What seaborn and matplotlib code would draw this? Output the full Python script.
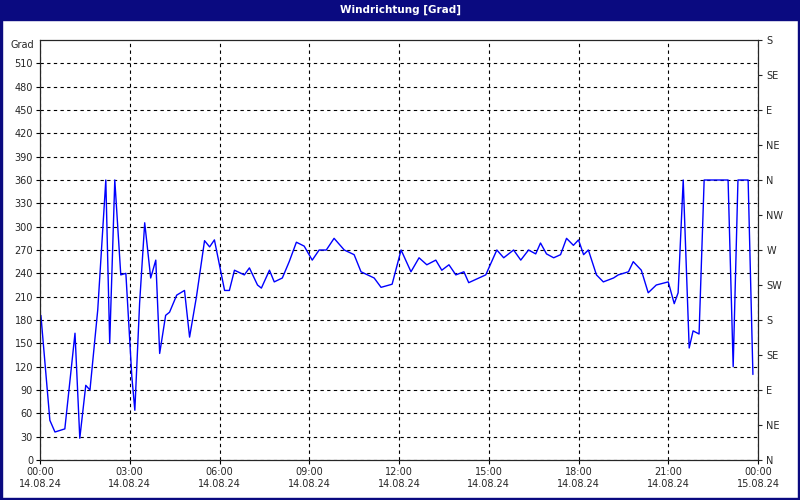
import matplotlib
matplotlib.use("Agg")
import matplotlib.pyplot as plt
import seaborn as sns
import pandas as pd

hours = [0.03,0.33,0.5,0.83,1.17,1.33,1.53,1.67,1.93,2.2,2.33,2.5,2.7,2.87,3.07,3.17,3.33,3.5,3.7,3.87,4.0,4.2,4.33,4.57,4.83,5.0,5.23,5.5,5.67,5.83,6.17,6.33,
         6.5,6.83,7.0,7.27,7.4,7.67,7.83,8.1,8.33,8.57,8.83,9.1,9.33,9.57,9.83,10.17,10.5,10.73,11.17,11.4,11.77,12.07,12.4,12.67,12.93,13.23,13.43,13.67,13.9,14.17,14.33,14.67,14.9,15.27,15.5,15.83,16.07,16.33,16.57,16.73,16.93,17.17,17.4,17.6,17.83,18.0,18.17,18.33,18.6,18.83,19.17,19.33,19.67,19.83,20.1,20.33,20.6,21.0,21.2,21.33,21.5,21.7,21.83,22.03,22.2,23.0,23.17,23.33,23.67,23.83]
degrees = [186,51,36,40,163,28,96,90,193,360,150,360,238,240,107,64,202,305,234,257,137,186,190,212,218,158,210,282,274,283,218,218,
           244,238,247,225,221,244,229,234,255,280,275,257,270,270,285,270,264,242,234,222,226,270,242,260,251,257,244,251,238,242,228,234,238,270,260,270,257,270,265,279,265,260,264,285,276,283,264,270,238,229,234,238,242,255,244,215,225,229,201,215,360,144,166,162,360,360,120,360,360,110]
left_ticks = list(range(0, 511, 30))
right_labels = ["N","NE","E","SE","S","SW","W","NW","N","NE","E","SE","S"]
x_labels = ["00:00\n14.08.24","03:00\n14.08.24","06:00\n14.08.24","09:00\n14.08.24","12:00\n14.08.24",
            "15:00\n14.08.24","18:00\n14.08.24","21:00\n14.08.24","00:00\n15.08.24"]

df = pd.DataFrame({"h": hours, "deg": degrees})
sns.set_style("white")
plt.rcParams['font.family'] = ['DejaVu Sans']
navy = "#0a0a80"
fig = plt.figure(figsize=(8, 5), dpi=100, facecolor="white")
ax = fig.add_axes([0.05, 0.08, 0.8975, 0.84])
ax.set_facecolor("white")
sns.lineplot(data=df, x="h", y="deg", ax=ax, color="#0000ff", linewidth=1)
ax.set_xlim(0, 24)
ax.set_ylim(0, 540)
ax.set_xticks(range(0, 25, 3))
ax.set_xticklabels(x_labels, fontsize=7)
ax.set_yticks(left_ticks)
ax.set_yticklabels([str(t) for t in left_ticks], fontsize=7)
ax.set_xlabel(""); ax.set_ylabel("")
ax.grid(True, color="black", linestyle=(0, (3, 3)), linewidth=0.8)
for s in ax.spines.values():
    s.set_color("black"); s.set_linewidth(0.8)
ax.tick_params(length=3, color="black", left=True, bottom=True, pad=2)
ax.text(-0.008, 0.988, "Grad", transform=ax.transAxes, fontsize=7, ha="right", va="center")
ax2 = ax.twinx()
ax2.set_ylim(0, 540)
ax2.set_yticks(range(0, 541, 45))
ax2.set_yticklabels(right_labels, fontsize=7)
ax2.tick_params(length=3, right=True, pad=3)
fig.patches.append(plt.Rectangle((0, 0.96), 1, 0.04, transform=fig.transFigure, color=navy, zorder=0))
fig.patches.append(plt.Rectangle((0, 0), 0.003, 1, transform=fig.transFigure, color=navy, zorder=0))
fig.patches.append(plt.Rectangle((0.997, 0), 0.003, 1, transform=fig.transFigure, color=navy, zorder=0))
fig.patches.append(plt.Rectangle((0, 0), 1, 0.004, transform=fig.transFigure, color=navy, zorder=0))
fig.text(0.5, 0.98, "Windrichtung [Grad]", color="white", fontsize=7.5, fontweight="bold", ha="center", va="center")
fig.savefig("out.png", dpi=100, facecolor=fig.get_facecolor())
